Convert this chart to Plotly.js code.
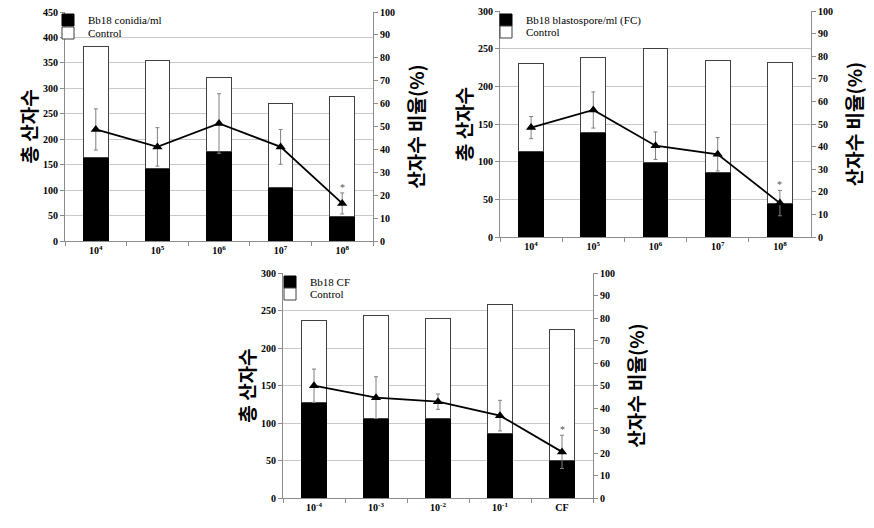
<!DOCTYPE html>
<html>
<head>
<meta charset="utf-8">
<script src="https://cdn.plot.ly/plotly-3.0.1.min.js"></script>
<style>html,body{margin:0;padding:0;background:#fff}#chart{width:874px;height:528px}</style>
</head>
<body>
<div id="chart"></div>
<script>
// ---------- data ----------
var cats1 = ['10<sup>4</sup>','10<sup>5</sup>','10<sup>6</sup>','10<sup>7</sup>','10<sup>8</sup>'];
var treat1 = [165, 142, 175, 106, 48];
var control1 = [217, 213, 146, 165, 235];
var pct1 = [48.7, 41.1, 51.3, 41.1, 16.4];
var err1 = [9.0, 8.4, 13.0, 7.6, 4.6];
var sig1 = [false, false, false, false, true];

var cats2 = ['10<sup>4</sup>','10<sup>5</sup>','10<sup>6</sup>','10<sup>7</sup>','10<sup>8</sup>'];
var treat2 = [114, 139, 99, 86, 44];
var control2 = [116, 99, 151, 148, 188];
var pct2 = [48.4, 56.2, 40.4, 36.6, 15.0];
var err2 = [4.9, 8.0, 6.1, 7.4, 5.6];
var sig2 = [false, false, false, false, true];

var cats3 = ['10<sup>-4</sup>','10<sup>-3</sup>','10<sup>-2</sup>','10<sup>-1</sup>','CF'];
var treat3 = [127, 106, 106, 86, 50];
var control3 = [110, 138, 134, 172, 175];
var pct3 = [49.9, 44.6, 42.8, 36.6, 20.5];
var err3 = [7.4, 9.3, 3.4, 6.8, 7.4];
var sig3 = [false, false, false, false, true];

var treatNames = ['Bb18 conidia/ml', 'Bb18 blastospore/ml (FC)', 'Bb18 CF'];
var controlName = 'Control';
var leftTitle = '총 산자수';
var rightTitle = '산자수 비율(%)';

// ---------- styling ----------
var W = 874, H = 528;
var serif = 'Liberation Serif, Times New Roman, serif';
var kfont = {family: 'Noto Sans CJK KR, sans-serif', size: 19, color: '#000', weight: 'bold'};
var tfont = {family: serif, size: 10, color: '#000', weight: 'bold'};
var lfont = {family: serif, size: 11, color: '#000'};
var axisGray = '#8c8c8c';

function px2x(p){ return p / W; }
function px2y(p){ return 1 - p / H; }

var panels = [
  {cats: cats1, treat: treat1, control: control1, pct: pct1, err: err1, sig: sig1,
   xbox: [65, 373], ybox: [12, 241], ymax: 450, x: 'x', y: 'y', y2: 'y2', lx: 48, ly: [20, 33]},
  {cats: cats2, treat: treat2, control: control2, pct: pct2, err: err2, sig: sig2,
   xbox: [500, 811], ybox: [11, 237], ymax: 300, x: 'x2', y: 'y3', y2: 'y4', lx: 486, ly: [20, 32]},
  {cats: cats3, treat: treat3, control: control3, pct: pct3, err: err3, sig: sig3,
   xbox: [283, 593], ybox: [273, 498], ymax: 300, x: 'x3', y: 'y5', y2: 'y6', lx: 270, ly: [282, 294]}
];

var traces = [];
var layout = {
  width: W, height: H,
  margin: {l: 0, r: 0, t: 0, b: 0},
  paper_bgcolor: '#fff', plot_bgcolor: '#fff',
  barmode: 'stack', bargap: 0.6,
  annotations: []
};

panels.forEach(function(p, i){
  var legA = 'legend' + (i === 0 ? '' : (2 * i + 1));
  var legB = 'legend' + (2 * i + 2);
  traces.push({
    type: 'bar', x: p.cats, y: p.treat, xaxis: p.x, yaxis: p.y,
    name: treatNames[i], legend: legA,
    marker: {color: '#000', line: {color: '#000', width: 1}},
    hoverinfo: 'y'
  });
  traces.push({
    type: 'bar', x: p.cats, y: p.control, xaxis: p.x, yaxis: p.y,
    name: controlName, legend: legB,
    marker: {color: '#fff', line: {color: '#404040', width: 1}},
    hoverinfo: 'y'
  });
  traces.push({
    type: 'scatter', mode: 'lines+markers', x: p.cats, y: p.pct, xaxis: p.x, yaxis: p.y2,
    showlegend: false,
    line: {color: '#000', width: 1.8},
    marker: {symbol: 'triangle-up', size: 9, color: '#000'},
    error_y: {type: 'data', array: p.err, visible: true, color: '#7f7f7f', thickness: 1, width: 2}
  });

  var xk = p.x === 'x' ? 'xaxis' : 'xaxis' + p.x.slice(1);
  var yk = 'yaxis' + (p.y === 'y' ? '' : p.y.slice(1));
  var y2k = 'yaxis' + p.y2.slice(1);

  layout[xk] = {
    domain: [px2x(p.xbox[0]), px2x(p.xbox[1])],
    anchor: p.y, type: 'category',
    showline: true, linecolor: axisGray, linewidth: 1,
    ticks: 'outside', tickson: 'boundaries', ticklen: 4, tickcolor: axisGray,
    tickfont: tfont, showgrid: false, zeroline: false, fixedrange: true
  };
  layout[yk] = {
    domain: [px2y(p.ybox[1]), px2y(p.ybox[0])],
    anchor: p.x, range: [0, p.ymax], dtick: 50,
    showline: true, linecolor: axisGray, linewidth: 1,
    ticks: 'outside', ticklen: 4, tickcolor: axisGray,
    showgrid: true, gridcolor: '#c8c8c8', gridwidth: 1, zeroline: false,
    tickfont: tfont,
    title: {text: leftTitle, font: kfont, standoff: 0}
  };
  layout[y2k] = {
    overlaying: p.y, side: 'right', anchor: p.x,
    range: [0, 100], dtick: 10,
    showline: true, linecolor: axisGray, linewidth: 1,
    ticks: 'outside', ticklen: 4, tickcolor: axisGray,
    showgrid: false, zeroline: false,
    tickfont: tfont,
    title: {text: rightTitle, font: kfont, standoff: 16}
  };

  var legBase = {
    xanchor: 'left', yanchor: 'middle', bgcolor: 'rgba(0,0,0,0)', borderwidth: 0,
    font: lfont, itemclick: false, itemdoubleclick: false
  };
  layout[legA] = Object.assign({}, legBase, {x: px2x(p.lx), y: px2y(p.ly[0])});
  layout[legB] = Object.assign({}, legBase, {x: px2x(p.lx), y: px2y(p.ly[1])});

  p.sig.forEach(function(s, j){
    if (s) {
      layout.annotations.push({
        x: p.cats[j], y: p.pct[j] + p.err[j], xref: p.x, yref: p.y2,
        text: '*', showarrow: false, yanchor: 'bottom', yshift: -2,
        font: {family: serif, size: 10, color: '#555'}
      });
    }
  });
});

Plotly.newPlot('chart', traces, layout, {displayModeBar: false, staticPlot: true});
</script>
</body>
</html>
